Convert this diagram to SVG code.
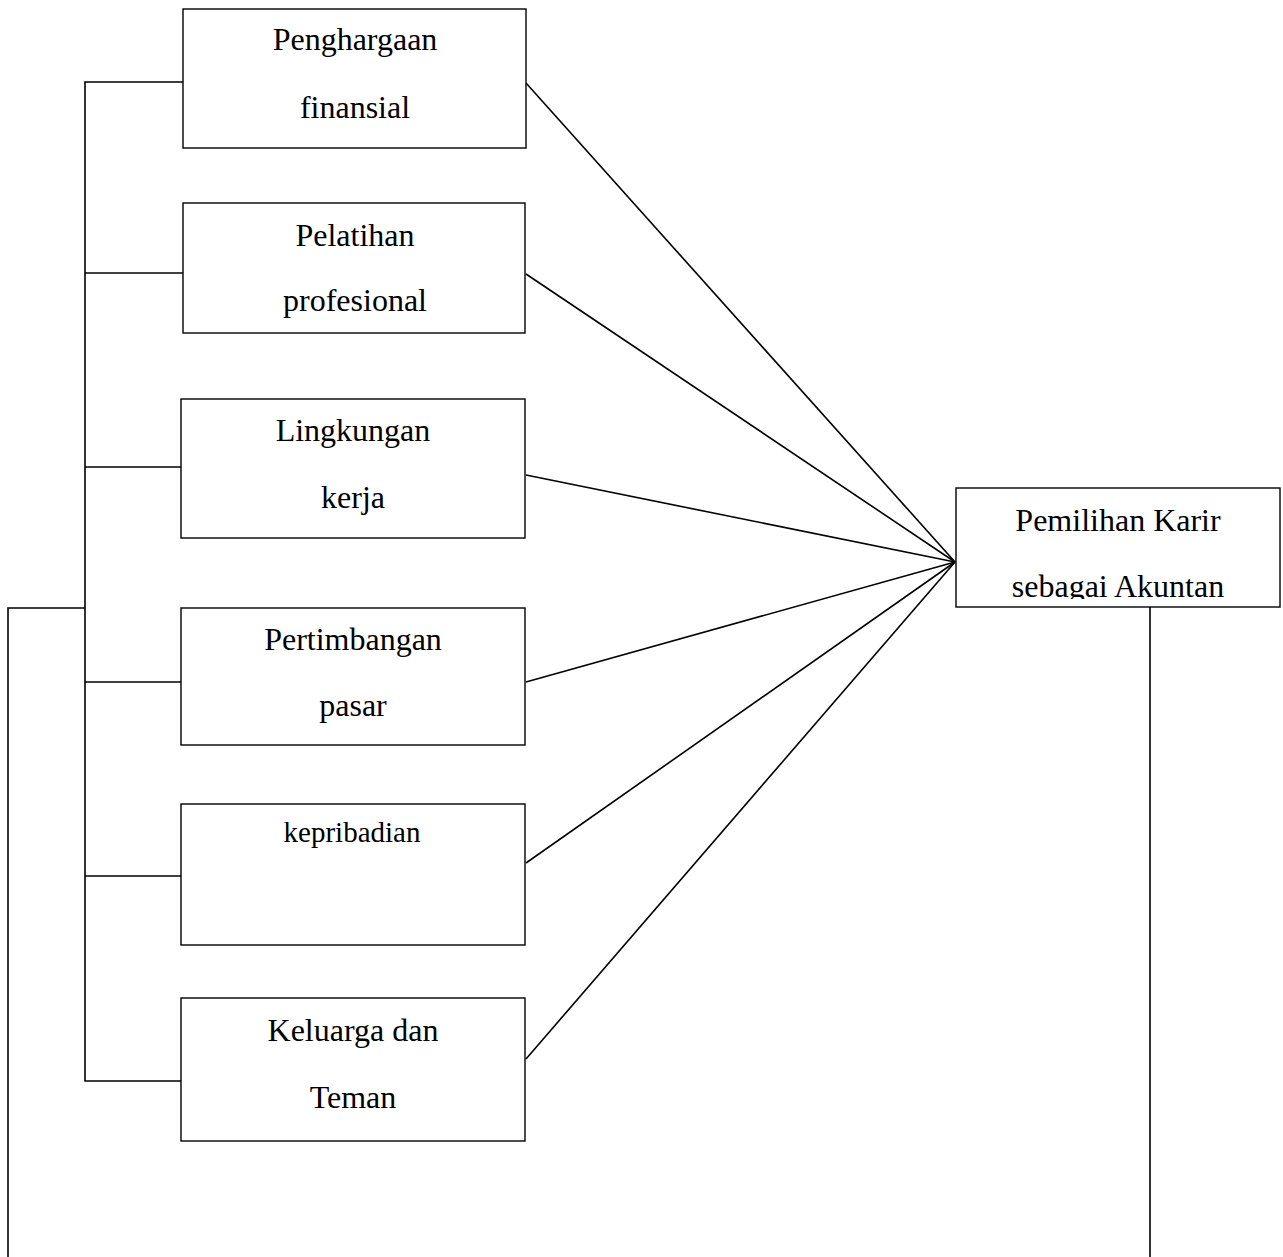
<svg xmlns="http://www.w3.org/2000/svg" width="1283" height="1257" viewBox="0 0 1283 1257">
<style>
.box{fill:#fff;stroke:#000;stroke-width:1.4}
.ln{fill:none;stroke:#000;stroke-width:1.6}
.t{font-family:"Liberation Serif","Times New Roman",serif;font-size:32px;fill:#000;text-anchor:middle}
.s{font-size:29px}
</style>
<defs>
<clipPath id="clipT"><rect x="956" y="488" width="324" height="111"/></clipPath>
</defs>
<rect width="1283" height="1257" fill="#fff"/>
<g id="connectors">
<polyline class="ln" points="183,82 85,82 85,1081 181,1081"/>
<line class="ln" x1="85" y1="273" x2="183" y2="273"/>
<line class="ln" x1="85" y1="467" x2="181" y2="467"/>
<line class="ln" x1="85" y1="682" x2="181" y2="682"/>
<line class="ln" x1="85" y1="876" x2="181" y2="876"/>
<polyline class="ln" points="85,608 8,608 8,1257"/>
<line class="ln" x1="1150" y1="607" x2="1150" y2="1257"/>
<line class="ln" x1="526" y1="83" x2="955" y2="562"/>
<line class="ln" x1="526" y1="274" x2="955" y2="562"/>
<line class="ln" x1="526" y1="475" x2="955" y2="562"/>
<line class="ln" x1="526" y1="682" x2="955" y2="562"/>
<line class="ln" x1="526" y1="863" x2="955" y2="562"/>
<line class="ln" x1="526" y1="1059" x2="955" y2="562"/>
</g>
<g id="n1"><rect class="box" x="183" y="9" width="343" height="139"/>
<text class="t" x="355" y="50">Penghargaan</text><text class="t" x="355" y="118">finansial</text></g>
<g id="n2"><rect class="box" x="183" y="203" width="342" height="130"/>
<text class="t" x="355" y="246">Pelatihan</text><text class="t" x="355" y="311">profesional</text></g>
<g id="n3"><rect class="box" x="181" y="399" width="344" height="139"/>
<text class="t" x="353" y="441">Lingkungan</text><text class="t" x="353" y="508">kerja</text></g>
<g id="n4"><rect class="box" x="181" y="608" width="344" height="137"/>
<text class="t" x="353" y="650">Pertimbangan</text><text class="t" x="353" y="716">pasar</text></g>
<g id="n5"><rect class="box" x="181" y="804" width="344" height="141"/>
<text class="t s" x="352" y="842">kepribadian</text></g>
<g id="n6"><rect class="box" x="181" y="998" width="344" height="143"/>
<text class="t" x="353" y="1041">Keluarga dan</text><text class="t" x="353" y="1108">Teman</text></g>
<g id="target"><rect class="box" x="956" y="488" width="324" height="119"/>
<g clip-path="url(#clipT)"><text class="t" x="1118" y="531">Pemilihan Karir</text><text class="t" x="1118" y="597">sebagai Akuntan</text></g></g>
</svg>
